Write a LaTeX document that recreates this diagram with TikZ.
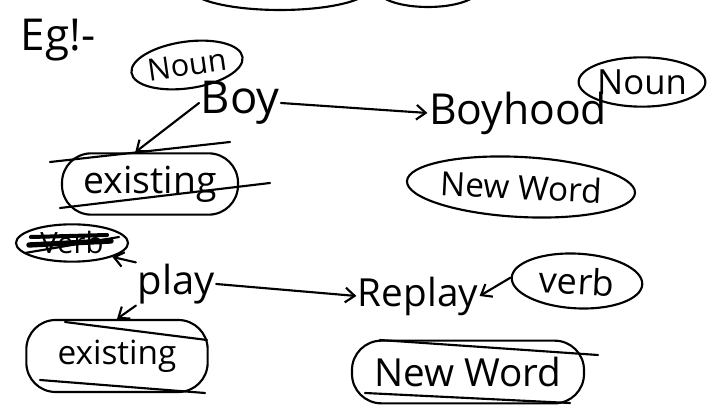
\documentclass[tikz,border=0pt]{standalone}
\usepackage{fontspec}
\setmainfont{Open Sans}
\usetikzlibrary{shapes.geometric,arrows.meta,calc}
\tikzset{
  pen/.style={line width=1.6pt, line cap=round, line join=round},
  oval/.style={ellipse, draw, pen, inner sep=0pt},
  pill/.style={rectangle, rounded corners=22pt, draw, pen, inner sep=0pt},
  word/.style={inner sep=1pt},
  arr/.style={pen, -{Straight Barb[length=7pt,width=11pt,line width=1.6pt]}},
}
\begin{document}
\begin{tikzpicture}[x=0.75pt,y=-0.75pt]
\useasboundingbox (0,0) rectangle (708,416);
\begin{scope}
\clip (0,0) rectangle (708,416);
\draw[pen] (280,-12) ellipse [x radius=90, y radius=22];
\draw[pen] (428,-10) ellipse [x radius=50, y radius=17];
\end{scope}

\node[word, font=\fontsize{33}{33}\selectfont] (eg) at (58,40) {Eg!-};

% Boy branch
\node[oval, minimum width=69pt, minimum height=35pt, rotate=8, font=\fontsize{23}{23}\selectfont] (noun1) at (187,65) {Noun};
\node[word, font=\fontsize{34}{34}\selectfont] (boy) at (240,103) {Boy};
\node[pill, minimum width=132pt, minimum height=46pt, font=\fontsize{28}{28}\selectfont] (exist1) at (150,184) {existing};
\draw[pen] ($(exist1.center)+(-100,-22)$) -- ($(exist1.center)+(80,-42)$);
\draw[pen] ($(exist1.center)+(-90,24)$) -- ($(exist1.center)+(120,-1)$);

\node[word, font=\fontsize{32}{32}\selectfont] (boyhood) at (518,113) {Boyhood};
\node[oval, minimum width=86pt, minimum height=37pt, font=\fontsize{26}{26}\selectfont] (noun2) at (642,82) {Noun};
\node[oval, minimum width=160pt, minimum height=45pt, rotate=-3, font=\fontsize{25}{25}\selectfont] (new1) at (521,187) {New Word};

\draw[arr] (boy.west) -- (exist1.115);
\draw[arr] (boy.east) -- (boyhood.west);

% play branch
\node[oval, minimum width=84pt, minimum height=28pt, font=\fontsize{22}{22}\selectfont] (verb1) at (72,243) {Verb};
\draw[pen, line width=4pt] ($(verb1.west)+(14,2)$) -- ($(verb1.east)+(-18,-2)$);
\draw[pen, line width=3pt] ($(verb1.west)+(16,-6)$) -- ($(verb1.east)+(-22,-8)$);
\draw[pen] ($(verb1.west)+(10,10)$) -- ($(verb1.east)+(-10,-6)$);

\node[word, font=\fontsize{30}{30}\selectfont] (play) at (176,284) {play};
\node[pill, minimum width=136pt, minimum height=54pt, font=\fontsize{25}{25}\selectfont] (exist2) at (117,356) {existing};
\draw[pen] ($(exist2.center)+(-52,-34)$) -- ($(exist2.center)+(90,-16)$);
\draw[pen] ($(exist2.center)+(-77,24)$) -- ($(exist2.center)+(88,37)$);

\node[word, font=\fontsize{29}{29}\selectfont] (replay) at (418,296) {Replay};
\node[oval, minimum width=98pt, minimum height=41pt, rotate=-3, font=\fontsize{27}{27}\selectfont] (verb2) at (577,281) {verb};
\node[pill, minimum width=174pt, minimum height=47pt, font=\fontsize{29}{29}\selectfont] (new2) at (468,372) {New Word};
\draw[pen] ($(new2.center)+(-88,-32)$) -- ($(new2.center)+(130,-17)$);
\draw[pen] ($(new2.center)+(-103,21)$) -- ($(new2.center)+(102,31)$);

\draw[arr] (play.north west) -- (verb1.south east);
\draw[arr] (play.south west) -- (exist2.north);
\draw[arr] (play.east) -- (replay.west);
\draw[arr] (verb2.west) -- (replay.east);
\end{tikzpicture}
\end{document}
